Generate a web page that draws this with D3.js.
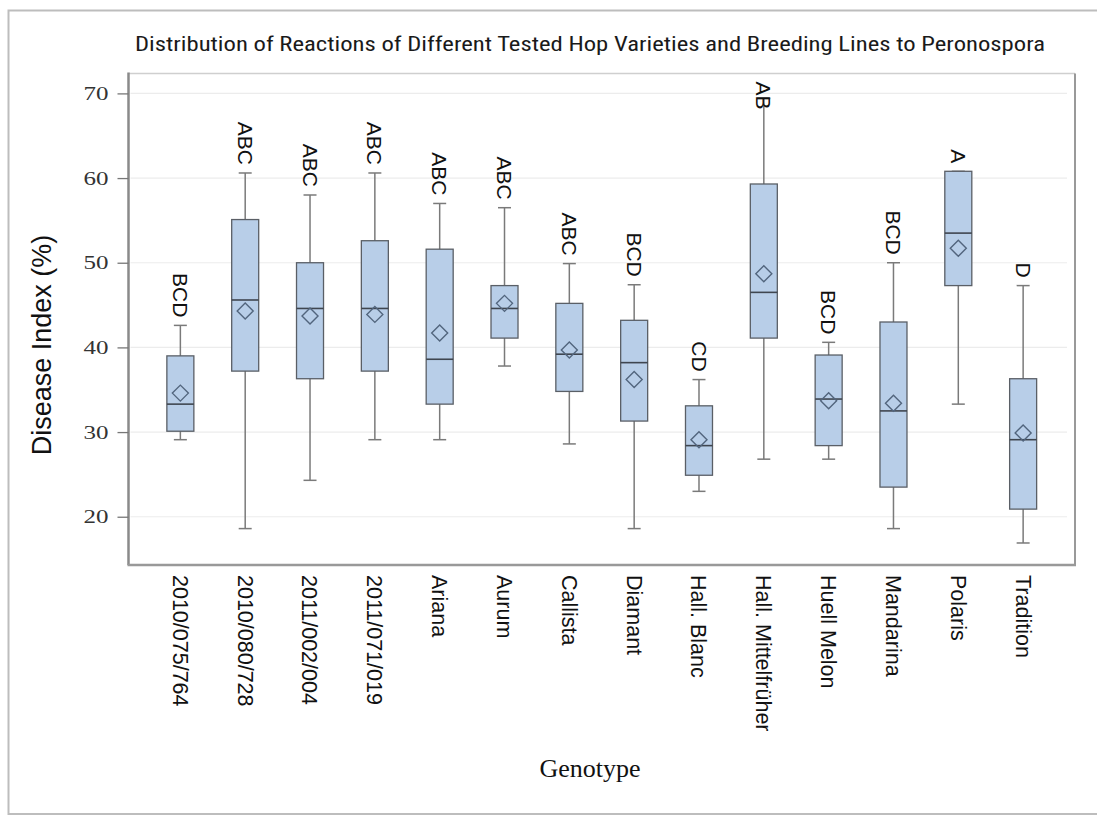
<!DOCTYPE html>
<html>
<head>
<meta charset="utf-8">
<script src="https://cdn.jsdelivr.net/npm/d3@7"></script>
<style>
  body { margin: 0; background: #fff; }
  svg { display: block; }
</style>
</head>
<body>
<svg id="chart" width="1097" height="816"></svg>
<script>
// Disease index (%) summary per genotype
const genotypes = ["2010/075/764", "2010/080/728", "2011/002/004", "2011/071/019", "Ariana", "Aurum",
  "Callista", "Diamant", "Hall. Blanc", "Hall. Mittelfrüher", "Huell Melon", "Mandarina", "Polaris", "Tradition"];
const whiskerLow  = [29.1, 18.6, 24.3, 29.1, 29.1, 37.8, 28.6, 18.6, 23.0, 26.8, 26.8, 18.6, 33.3, 16.9];
const q1          = [30.1, 37.2, 36.3, 37.2, 33.3, 41.1, 34.8, 31.3, 24.9, 41.1, 28.4, 23.5, 47.3, 20.9];
const medians     = [33.3, 45.6, 44.6, 44.6, 38.6, 44.6, 39.2, 38.2, 28.4, 46.5, 33.9, 32.5, 53.5, 29.1];
const q3          = [39.0, 55.1, 50.0, 52.6, 51.6, 47.3, 45.2, 43.2, 33.1, 59.3, 39.1, 43.0, 60.8, 36.3];
const whiskerHigh = [42.6, 60.6, 58.0, 60.6, 57.0, 56.5, 49.9, 47.4, 36.2, 69.4, 40.6, 50.0, 60.8, 47.3];
const means       = [34.6, 44.3, 43.7, 43.9, 41.7, 45.2, 39.7, 36.2, 29.1, 48.7, 33.7, 33.4, 51.7, 29.9];
const groupLetters = ["BCD", "ABC", "ABC", "ABC", "ABC", "ABC", "ABC", "BCD", "CD", "AB", "BCD", "BCD", "A", "D"];
const yTicks = [20, 30, 40, 50, 60, 70];

const rows = genotypes.map((g, i) => ({
  g, lo: whiskerLow[i], q1: q1[i], med: medians[i], q3: q3[i], hi: whiskerHigh[i],
  mean: means[i], letters: groupLetters[i]
}));

const svg = d3.select("#chart");
const plot = { left: 128.5, right: 1075, top: 73.5, bottom: 565 };

const x = d3.scalePoint().domain(genotypes).range([plot.left, plot.right]).padding(0.8);
const y = d3.scaleLinear().domain([14.3, 72.35]).range([plot.bottom, plot.top]);

const sans = "'Liberation Sans', Arial, sans-serif";
const serif = "'Liberation Serif', 'Times New Roman', serif";

// outer frame of the figure
svg.append("rect")
  .attr("x", 8.5).attr("y", 10.5).attr("width", 1100).attr("height", 803.5)
  .attr("fill", "none").attr("stroke", "#bdbdbd").attr("stroke-width", 2);

// title
svg.append("text")
  .attr("x", 590).attr("y", 51)
  .attr("text-anchor", "middle")
  .attr("textLength", 910).attr("lengthAdjust", "spacingAndGlyphs")
  .style("font-family", "'Liberation Sans Narrow', 'Roboto Condensed', 'Liberation Sans', Arial, sans-serif")
  .style("font-size", "20px").attr("fill", "#1a1a1a")
  .text("Distribution of Reactions of Different Tested Hop Varieties and Breeding Lines to Peronospora");

// horizontal gridlines
svg.append("g").selectAll("line").data(yTicks).join("line")
  .attr("x1", plot.left + 2).attr("x2", plot.right - 8)
  .attr("y1", d => y(d)).attr("y2", d => y(d))
  .attr("stroke", "#ececec").attr("stroke-width", 1.2);

// top and right frame
svg.append("line").attr("x1", plot.left).attr("x2", plot.right)
  .attr("y1", plot.top).attr("y2", plot.top)
  .attr("stroke", "#cfcfcf").attr("stroke-width", 1.5);
svg.append("line").attr("x1", plot.right).attr("x2", plot.right)
  .attr("y1", plot.top).attr("y2", plot.bottom)
  .attr("stroke", "#999").attr("stroke-width", 2);

// y axis
const yAxis = svg.append("g")
  .attr("transform", `translate(${plot.left},0)`)
  .call(d3.axisLeft(y).tickValues(yTicks).tickSize(11).tickPadding(9).tickSizeOuter(0));
yAxis.select(".domain").attr("stroke", "#8a8a8a").attr("stroke-width", 2.5)
  .attr("d", `M0,${plot.top - 1}V${plot.bottom}`);
yAxis.selectAll(".tick line").attr("stroke", "#777").attr("stroke-width", 1.3);
yAxis.selectAll(".tick text")
  .style("font-family", serif).style("font-size", "19px").attr("fill", "#333")
  .attr("textLength", 25).attr("lengthAdjust", "spacingAndGlyphs");

// x axis line
svg.append("line").attr("x1", plot.left - 1).attr("x2", plot.right + 1)
  .attr("y1", plot.bottom).attr("y2", plot.bottom)
  .attr("stroke", "#999").attr("stroke-width", 2.5);

// whiskers
const boxW = 27, capW = 13;
const g = svg.append("g");
const grp = g.selectAll("g.box").data(rows).join("g").attr("class", "box");

grp.append("line")
  .attr("x1", d => x(d.g)).attr("x2", d => x(d.g))
  .attr("y1", d => y(d.hi)).attr("y2", d => y(d.lo))
  .attr("stroke", "#7a7a7a").attr("stroke-width", 1.5);
grp.append("line")
  .attr("x1", d => x(d.g) - capW / 2).attr("x2", d => x(d.g) + capW / 2)
  .attr("y1", d => y(d.hi)).attr("y2", d => y(d.hi))
  .attr("stroke", "#7a7a7a").attr("stroke-width", 1.5);
grp.append("line")
  .attr("x1", d => x(d.g) - capW / 2).attr("x2", d => x(d.g) + capW / 2)
  .attr("y1", d => y(d.lo)).attr("y2", d => y(d.lo))
  .attr("stroke", "#7a7a7a").attr("stroke-width", 1.5);

// boxes
grp.append("rect")
  .attr("x", d => x(d.g) - boxW / 2).attr("width", boxW)
  .attr("y", d => y(d.q3)).attr("height", d => y(d.q1) - y(d.q3))
  .attr("fill", "#b8cee8").attr("stroke", "#5a5f66").attr("stroke-width", 1.3);

// medians
grp.append("line")
  .attr("x1", d => x(d.g) - boxW / 2).attr("x2", d => x(d.g) + boxW / 2)
  .attr("y1", d => y(d.med)).attr("y2", d => y(d.med))
  .attr("stroke", "#3f4650").attr("stroke-width", 1.6);

// means
const dm = 8;
grp.append("path")
  .attr("d", d => {
    const cx = x(d.g), cy = y(d.mean);
    return `M${cx},${cy - dm}L${cx + dm},${cy}L${cx},${cy + dm}L${cx - dm},${cy}Z`;
  })
  .attr("fill", "none").attr("stroke", "#52657d").attr("stroke-width", 1.4);

// significance letters above whiskers
grp.append("text")
  .attr("transform", d => {
    const len = d.letters.length * 15;
    let end = y(d.hi) - 8;
    if (end - len < plot.top + 6) end = plot.top + 6 + len;
    return `translate(${x(d.g)},${end}) rotate(90)`;
  })
  .attr("text-anchor", "end").attr("dy", "0.35em")
  .style("font-family", sans).style("font-size", "21px").attr("fill", "#111")
  .text(d => d.letters);

// category labels
svg.append("g").selectAll("text").data(genotypes).join("text")
  .attr("transform", d => `translate(${x(d)},${plot.bottom + 10}) rotate(90)`)
  .attr("text-anchor", "start").attr("dy", "0.35em")
  .style("font-family", sans).style("font-size", "21.5px").attr("fill", "#111")
  .text(d => d);

// axis titles
svg.append("text")
  .attr("transform", `translate(42,345) rotate(-90)`)
  .attr("text-anchor", "middle").attr("dy", "0.35em")
  .style("font-family", sans).style("font-size", "27px").attr("fill", "#111")
  .text("Disease Index (%)");

svg.append("text")
  .attr("x", 590).attr("y", 777)
  .attr("text-anchor", "middle")
  .style("font-family", serif).style("font-size", "26px").attr("fill", "#111")
  .text("Genotype");
</script>
</body>
</html>
